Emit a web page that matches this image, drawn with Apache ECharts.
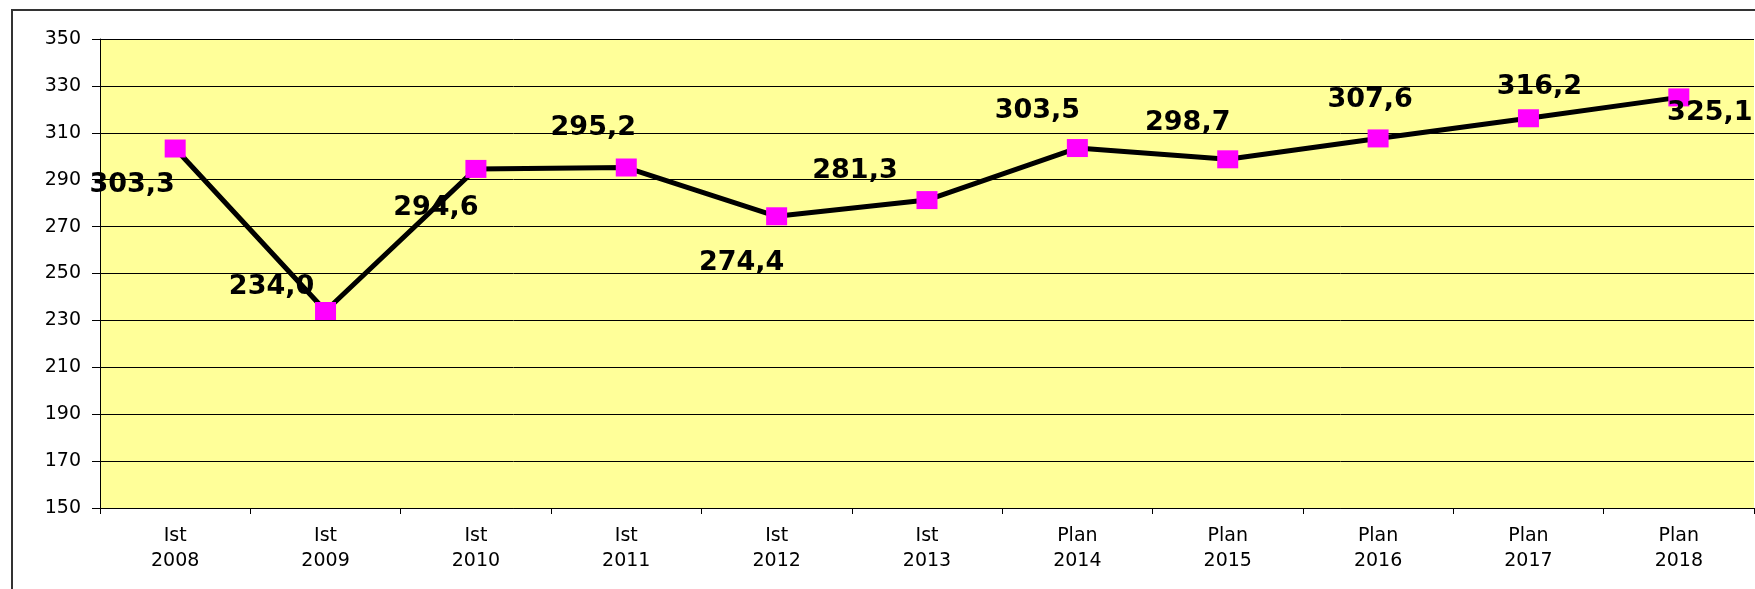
<!DOCTYPE html>
<html>
<head>
<meta charset="utf-8">
<script src="https://cdn.jsdelivr.net/npm/echarts@6/dist/echarts.min.js"></script>
<style>
  html, body { margin: 0; padding: 0; background: #fff; }
  #main { width: 1755px; height: 589px; }
</style>
</head>
<body>
<div id="main"></div>
<script>
var stages = ['Ist', 'Ist', 'Ist', 'Ist', 'Ist', 'Ist', 'Plan', 'Plan', 'Plan', 'Plan', 'Plan'];
var years = ['2008', '2009', '2010', '2011', '2012', '2013', '2014', '2015', '2016', '2017', '2018'];
var values = [303.3, 234.0, 294.6, 295.2, 274.4, 281.3, 303.5, 298.7, 307.6, 316.2, 325.1];

// where each value label sits relative to its marker (as in the original)
var labelShift = [[-43, 36], [-54, -24], [-40, 39], [-33, -40], [-35, 47], [-72, -29],
                  [-40, -37], [-40, -36], [-8, -38], [11, -31], [31, 16]];

var categories = stages.map(function (s, i) { return s + '\n' + years[i]; });

var points = values.map(function (v, i) {
  return {
    value: v,
    label: { offset: labelShift[i] }
  };
});

var chart = echarts.init(document.getElementById('main'));
chart.setOption({
  animation: false,
  backgroundColor: '#fff',
  graphic: [{
    type: 'rect',
    shape: { x: 12, y: 10, width: 2000, height: 2000 },
    style: { fill: 'none', stroke: '#333', lineWidth: 2 },
    z: -1
  }],
  grid: { left: 100, top: 39, right: 1, bottom: 81, show: true, backgroundColor: '#FFFF99', borderWidth: 0 },
  xAxis: {
    type: 'category',
    data: categories,
    axisLine: { lineStyle: { color: '#000', width: 1 } },
    axisTick: { show: true, length: 6, lineStyle: { color: '#000' } },
    axisLabel: { color: '#000', fontFamily: 'DejaVu Sans', fontSize: 19, lineHeight: 25, margin: 16 }
  },
  yAxis: {
    type: 'value',
    min: 150,
    max: 350,
    interval: 20,
    axisLine: { show: true, lineStyle: { color: '#000', width: 1 } },
    axisTick: { show: true, length: 8, lineStyle: { color: '#000' } },
    axisLabel: { color: '#000', fontFamily: 'DejaVu Sans', fontSize: 19, margin: 19 },
    splitLine: { lineStyle: { color: '#000', width: 1 } }
  },
  series: [{
    type: 'line',
    data: points,
    symbol: 'rect',
    symbolSize: [21, 18],
    itemStyle: { color: '#FF00FF' },
    lineStyle: { color: '#000', width: 5 },
    z: 3,
    label: {
      show: true,
      position: 'inside',
      color: '#000',
      fontFamily: 'DejaVu Sans',
      fontWeight: 'bold',
      fontSize: 27,
      formatter: function (p) { return p.value.toFixed(1).replace('.', ','); }
    }
  }]
});
</script>
</body>
</html>
